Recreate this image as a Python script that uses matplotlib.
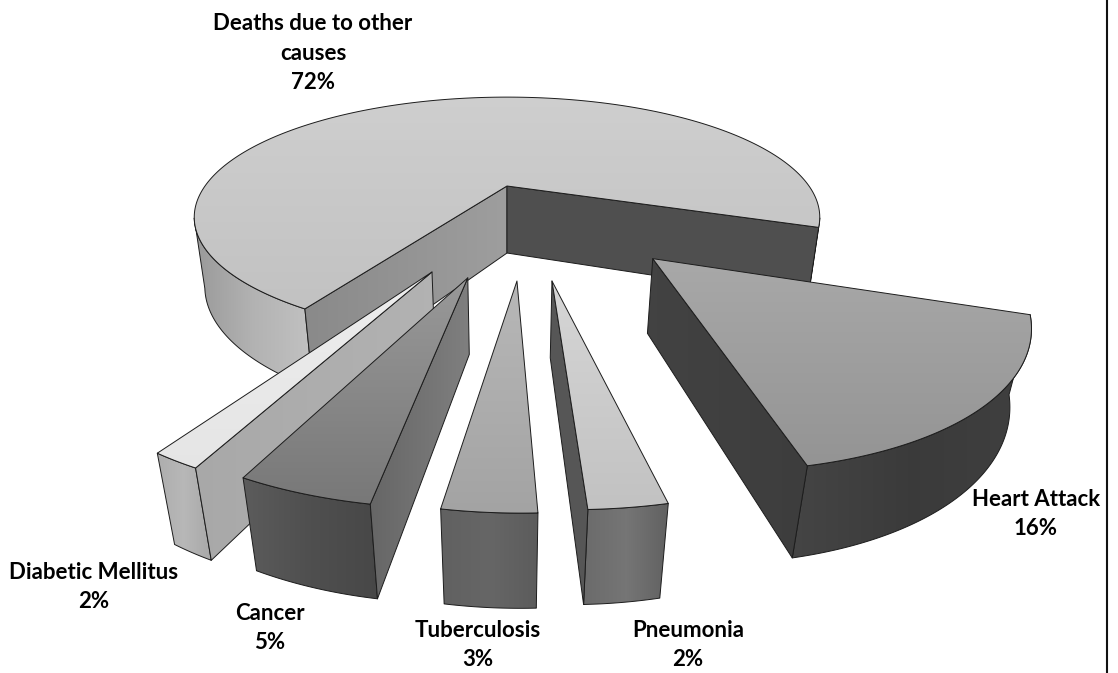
import numpy as np
import matplotlib
matplotlib.use("Agg")
import matplotlib.pyplot as plt
from matplotlib.patches import Polygon
from matplotlib.colors import LinearSegmentedColormap

# slices, clockwise from the heart attack slice
names = ["Heart Attack", "Pneumonia", "Tuberculosis", "Cancer",
         "Diabetic Mellitus", "Deaths due to other\ncauses"]
percent_labels = ["16%", "2%", "3%", "5%", "2%", "72%"]
# slice sizes as measured on the picture, the labels above are rounded
shares = [16.45, 2.6, 3.05, 4.5, 1.7, 71.9]

# how far each slice is pulled out of the pie (pie radius = 1)
explode = [(0.413, 0.555), (0.122, 0.695), (0.027, 0.695), (-0.107, 0.676),
           (-0.207, 0.64), (0.0, 0.0)]
radius = [0.978, 0.955, 0.965, 0.97, 0.975, 1.0]
label_xy = [(1036, 514), (688, 645), (478, 645), (270, 628), (94, 587), (313, 53)]

# grey levels: top (far, near), outer side (left..right), side faces
top_grey = [(0.66, 0.58), (0.84, 0.76), (0.72, 0.64), (0.60, 0.47), (0.93, 0.90), (0.81, 0.76)]
outer_grey = [(0.27, 0.23, 0.25), (0.42, 0.46, 0.38), (0.38, 0.40, 0.36), (0.36, 0.31, 0.28),
              (0.68, 0.72, 0.66), (0.60, 0.70, 0.76)]
side_a_grey = [(0.26, 0.24), (0.34, 0.34), (0.45, 0.45), (0.40, 0.50), (0.66, 0.70), (0.54, 0.62)]
side_b_grey = [(0.26, 0.24), (0.34, 0.34), (0.45, 0.45), (0.44, 0.52), (0.66, 0.66), (0.31, 0.31)]

# camera
CX, CY = 507, 186
RX, RY = 302, 112
K = 0.26
VP = np.array([507, 2300])
T0 = 0.0317
START = 70.3

fig = plt.figure(figsize=(11.18, 6.73), dpi=100)
ax = fig.add_axes([0, 0, 1, 1])
order = 1


def project(x, y, bottom=False):
    x = np.asarray(x, dtype=float)
    y = np.asarray(y, dtype=float)
    w = 1 / (1 - K * y)
    pts = np.column_stack([CX + RX * x * w, CY + RY * y * w])
    if bottom:
        pts = pts + (T0 * w ** 0.92)[:, None] * (VP - pts)
    return pts


def area(pts):
    x, y = pts[:, 0], pts[:, 1]
    return np.sum(x * np.roll(y, -1) - np.roll(x, -1) * y)


def face(pts, greys, vertical=False):
    global order
    cmap = LinearSegmentedColormap.from_list("g", [str(g) for g in greys])
    ramp = np.linspace(0, 1, 256)
    ramp = ramp[:, None] if vertical else ramp[None, :]
    x0, y0 = pts.min(axis=0)
    x1, y1 = pts.max(axis=0)
    img = ax.imshow(ramp, cmap=cmap, vmin=0, vmax=1, extent=(x0, x1, y1, y0), origin="upper",
                    aspect="auto", interpolation="bilinear", zorder=order)
    poly = Polygon(pts, closed=True, facecolor="none", edgecolor="#1c1c1c", linewidth=0.7,
                   joinstyle="round", zorder=order + 0.5)
    ax.add_patch(poly)
    img.set_clip_path(poly)
    order += 1


def draw_slice(i, a0, a1):
    ox, oy = explode[i]
    phi = np.radians(np.linspace(a0, a1, 300))
    rim_x = ox + radius[i] * np.sin(phi)
    rim_y = oy + radius[i] * np.cos(phi)
    top_arc = project(rim_x, rim_y)
    bot_arc = project(rim_x, rim_y, bottom=True)
    apex = project([ox], [oy])
    apex_b = project([ox], [oy], bottom=True)
    side_a = np.vstack([apex, top_arc[:1], bot_arc[:1], apex_b])
    side_b = np.vstack([apex, top_arc[-1:], bot_arc[-1:], apex_b])
    # keep only the rim that faces the viewer, the big slice has two such runs
    vis = rim_y - oy > K * radius[i]
    cuts = np.flatnonzero(np.diff(vis.astype(int))) + 1
    for run in np.split(np.arange(len(phi)), cuts):
        if vis[run[0]] and len(run) > 1:
            face(np.vstack([top_arc[run], bot_arc[run][::-1]]), outer_grey[i])
    if area(side_a) < 0:
        face(side_a, side_a_grey[i])
    if area(side_b) > 0:
        face(side_b, side_b_grey[i])
    face(np.vstack([apex, top_arc]), top_grey[i], vertical=True)


sweeps = 360 * np.array(shares) / sum(shares)
ends = START - np.cumsum(sweeps)
starts = ends + sweeps

# far to near, so that near slices cover the others
for i in [5, 4, 3, 2, 1, 0]:
    draw_slice(i, starts[i], ends[i])

for name, pct, (lx, ly) in zip(names, percent_labels, label_xy):
    ax.text(lx, ly, f"{name}\n{pct}", ha="center", va="center", family="Lato",
            fontweight="bold", fontsize=16, linespacing=1.5, color="black", zorder=50)

# right frame line of the original screenshot
ax.plot([1107, 1107], [0, 673], color="#111111", linewidth=1.5, zorder=60)

ax.set_xlim(0, 1118)
ax.set_ylim(673, 0)
ax.axis("off")
fig.savefig("out.png", dpi=100, facecolor="white")
